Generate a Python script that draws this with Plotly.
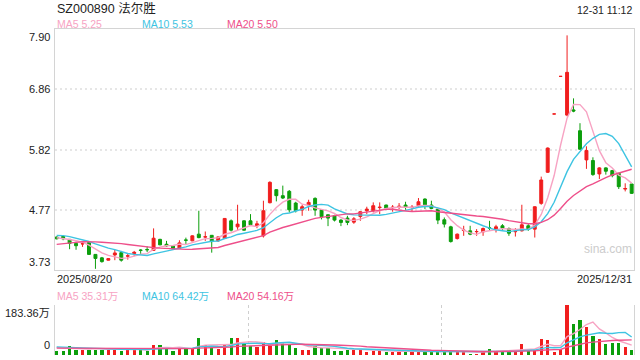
import plotly.graph_objects as go
import pandas as pd
import numpy as np

# ---------------- text ----------------
title_text = "SZ000890 法尔胜"
time_text = "12-31 11:12"
start_label = "2025/08/20"
end_label = "2025/12/31"
watermark = "sina.com"
price_tick_labels = ["7.90", "6.86", "5.82", "4.77", "3.73"]
vol_tick_labels = ["183.36万", "0"]
price_ma_labels = ["MA5 5.25", "MA10 5.53", "MA20 5.50"]
vol_ma_labels = ["MA5 35.31万", "MA10 64.42万", "MA20 54.16万"]

# ---------------- data ----------------
open_ = [4.30, 4.31, 4.26, 4.19, 4.18, 4.205, 4.00, 3.94, 3.90, 3.99,
         4.03, 3.97, 4.014, 4.075, 4.085, 4.07, 4.26, 4.176, 4.147, 4.106,
         4.25, 4.234, 4.35, 4.30, 4.33, 4.234, 4.274, 4.581, 4.477, 4.581,
         4.581, 4.495, 4.321, 4.894, 5.12, 5.016, 5.091, 4.888, 4.767, 4.854,
         4.969, 4.772, 4.686, 4.668, 4.593, 4.628, 4.558, 4.657, 4.755, 4.755,
         4.81, 4.854, 4.81, 4.824, 4.854, 4.81, 4.842, 4.958, 4.854, 4.784,
         4.599, 4.477, 4.274, 4.413, 4.408, 4.392, 4.39, 4.459, 4.437, 4.495,
         4.448, 4.392, 4.408, 4.495, 4.437, 4.883, 5.421, 6.43, 7.08, 6.41,
         6.50, 6.14, 5.635, 5.624, 5.392, 5.497, 5.45, 5.404, 5.13, 5.218]
high = [4.31, 4.33, 4.265, 4.22, 4.22, 4.21, 4.005, 3.956, 3.93, 4.08,
        4.06, 4.02, 4.06, 4.09, 4.14, 4.45, 4.27, 4.234, 4.15, 4.245,
        4.29, 4.33, 4.755, 4.396, 4.33, 4.31, 4.63, 4.605, 4.859, 4.59,
        4.697, 4.581, 4.929, 5.265, 5.131, 5.19, 5.114, 4.911, 4.859, 4.946,
        4.987, 4.78, 4.69, 4.686, 4.61, 4.668, 4.645, 4.744, 4.825, 4.90,
        4.90, 4.86, 4.854, 4.888, 4.911, 4.854, 4.975, 4.969, 4.929, 4.79,
        4.639, 4.495, 4.361, 4.495, 4.495, 4.437, 4.466, 4.581, 4.512, 4.524,
        4.466, 4.454, 4.859, 4.524, 4.83, 5.346, 5.85, 6.43, 7.08, 7.79,
        6.70, 6.27, 5.87, 5.68, 5.508, 5.508, 5.462, 5.404, 5.23, 5.218]
low = [4.26, 4.245, 4.09, 4.08, 4.13, 3.995, 3.75, 3.857, 3.895, 3.90,
       3.875, 3.91, 3.97, 3.99, 4.04, 4.06, 4.16, 4.13, 4.09, 4.10,
       4.176, 4.23, 4.28, 4.234, 4.03, 4.22, 4.27, 4.396, 4.408, 4.41,
       4.495, 4.454, 4.292, 4.883, 4.917, 4.958, 4.726, 4.726, 4.668, 4.755,
       4.668, 4.605, 4.489, 4.570, 4.489, 4.506, 4.529, 4.581, 4.697, 4.726,
       4.697, 4.79, 4.738, 4.784, 4.772, 4.738, 4.813, 4.784, 4.784, 4.524,
       4.466, 4.205, 4.257, 4.321, 4.332, 4.321, 4.321, 4.408, 4.379, 4.408,
       4.321, 4.309, 4.396, 4.408, 4.292, 4.859, 5.41, 6.43, 7.08, 6.39,
       6.46, 5.81, 5.48, 5.36, 5.305, 5.38, 5.334, 5.131, 5.09, 5.045]
close = [4.27, 4.27, 4.19, 4.15, 4.185, 4.00, 3.93, 3.875, 3.927, 4.025,
         3.90, 3.975, 4.037, 4.07, 4.08, 4.28, 4.165, 4.147, 4.095, 4.199,
         4.245, 4.321, 4.29, 4.305, 4.222, 4.303, 4.622, 4.419, 4.524, 4.419,
         4.512, 4.529, 4.755, 5.247, 5.016, 4.975, 4.772, 4.755, 4.825, 4.90,
         4.767, 4.651, 4.628, 4.593, 4.553, 4.553, 4.616, 4.738, 4.784, 4.842,
         4.816, 4.796, 4.816, 4.832, 4.813, 4.816, 4.911, 4.859, 4.796, 4.593,
         4.524, 4.222, 4.35, 4.419, 4.35, 4.396, 4.448, 4.454, 4.477, 4.454,
         4.367, 4.396, 4.512, 4.437, 4.825, 5.288, 5.84, 6.43, 7.08, 7.15,
         6.48, 5.82, 5.798, 5.381, 5.497, 5.439, 5.363, 5.172, 5.14, 5.056]
volume = [14.7, 14.7, 33.0, 20.8, 20.8, 20.8, 20.8, 20.8, 20.8, 22.0,
          14.7, 20.8, 20.8, 20.8, 14.7, 39.1, 39.1, 24.4, 14.7, 24.4,
          24.4, 28.1, 64.8, 36.7, 28.1, 23.2, 36.7, 64.8, 64.8, 42.8,
          34.2, 30.6, 50.1, 33.0, 57.5, 47.7, 36.7, 28.1, 20.8, 20.8,
          34.2, 26.9, 26.9, 14.7, 14.7, 20.8, 20.8, 20.8, 12.2, 14.7,
          14.7, 12.2, 12.2, 12.2, 14.7, 12.2, 12.2, 12.2, 12.2, 14.7,
          14.7, 12.2, 12.2, 12.2, 6.1, 6.1, 12.2, 24.4, 14.7, 12.2,
          12.2, 14.7, 40.3, 24.4, 18.3, 58.7, 55.0, 12.2, 24.4, 183.36,
          113.7, 128.4, 103.9, 69.7, 58.7, 40.3, 45.2, 45.2, 29.3, 18.3]
# closes / volumes of the sessions before the first drawn day (needed by the moving averages)
prior_close = [3.95, 3.97, 3.98, 4.00, 3.96, 3.99, 4.02, 4.05, 4.10, 4.18,
               4.28, 4.36, 4.42, 4.40, 4.36, 4.33, 4.28, 4.26, 4.30]
prior_volume = [18, 22, 20, 19, 24, 21, 23, 18, 20, 22,
                32, 35, 28, 30, 33, 30, 34, 28, 31]

# ---------------- styles ----------------
RED = "#f01e1e"
GREEN = "#0c9e0c"
MA_COLORS = ["#f7a3c3", "#3ec4e2", "#ee4f8a"]
MA_WINDOWS = [5, 10, 20]
FONT = "Liberation Sans, Arial, Noto Sans CJK SC, sans-serif"
W, H = 640, 360

n = len(close)
idx = list(range(n))

prev = [prior_close[-1]] + close[:-1]
is_up = [c > o or (c == o and c >= p) for o, c, p in zip(open_, close, prev)]

closes_all = pd.Series(prior_close + close)
vols_all = pd.Series(prior_volume + volume)
k = len(prior_close)

fig = go.Figure()

for up, color in [(True, RED), (False, GREEN)]:
    sel = [i for i in idx if is_up[i] == up]
    fig.add_trace(go.Candlestick(
        x=sel,
        open=[open_[i] for i in sel], high=[high[i] for i in sel],
        low=[low[i] for i in sel], close=[close[i] for i in sel],
        increasing=dict(line=dict(color=color, width=1), fillcolor=color),
        decreasing=dict(line=dict(color=color, width=1), fillcolor=color),
        whiskerwidth=0, xaxis="x", yaxis="y", hoverinfo="skip",
    ))

for w, col in zip(MA_WINDOWS, MA_COLORS):
    ma = closes_all.rolling(w).mean().iloc[k:].tolist()
    fig.add_trace(go.Scatter(x=idx, y=ma, mode="lines",
                             line=dict(color=col, width=1.4),
                             xaxis="x", yaxis="y", hoverinfo="skip"))

fig.add_trace(go.Bar(x=idx, y=volume, width=0.5,
                     marker=dict(color=[RED if u else GREEN for u in is_up], line=dict(width=0)),
                     xaxis="x2", yaxis="y2", hoverinfo="skip"))

for w, col in zip(MA_WINDOWS, MA_COLORS):
    ma = vols_all.rolling(w).mean().iloc[k:].tolist()
    fig.add_trace(go.Scatter(x=idx, y=ma, mode="lines",
                             line=dict(color=col, width=1.4),
                             xaxis="x2", yaxis="y2", hoverinfo="skip"))

# ---------------- layout geometry (pixels) ----------------
PL, PR = 55, 634
P_TOP, P_BOT = 29, 270
V_TOP, V_BOT = 304.5, 355
def px(x): return x / W
def py(y): return 1 - y / H

x_range = [-0.26, n - 1 + 0.36]
p_lo, p_hi = 3.73, 7.90
v_hi = 183.36
grid_vals = list(np.linspace(p_hi, p_lo, len(price_tick_labels)))
third = (x_range[1] - x_range[0]) / 3

BORDER = "#d4d4d4"
fig.update_layout(
    width=W, height=H, margin=dict(l=0, r=0, t=0, b=0),
    paper_bgcolor="white", plot_bgcolor="white", showlegend=False,
    font=dict(family=FONT, size=11, color="#222"),
    xaxis=dict(domain=[px(PL), px(PR)], range=x_range, showticklabels=False,
               showgrid=False, zeroline=False, showline=True, mirror=True,
               linecolor=BORDER, linewidth=1, ticks="", rangeslider=dict(visible=False),
               anchor="y"),
    yaxis=dict(domain=[py(P_BOT), py(P_TOP)], range=[p_lo, p_hi], tickvals=grid_vals[1:-1],
               showticklabels=False, showgrid=True, gridcolor="#e6e6e6", gridwidth=2,
               griddash="2px,3px", zeroline=False, showline=True, mirror=True,
               linecolor=BORDER, linewidth=1, ticks="", anchor="x"),
    xaxis2=dict(domain=[px(PL), px(PR)], range=x_range, showticklabels=False,
                tickvals=[x_range[0] + third, x_range[0] + 2 * third],
                showgrid=True, gridcolor="#cfcfcf", gridwidth=1, griddash="dot",
                zeroline=False, showline=False, ticks="", anchor="y2"),
    yaxis2=dict(domain=[py(V_BOT), py(V_TOP)], range=[0, v_hi], tickvals=[0, v_hi],
                showticklabels=False, showgrid=True, gridcolor="#cfcfcf", gridwidth=1,
                griddash="dot", zeroline=False, showline=True, mirror=True,
                linecolor=BORDER, linewidth=1, ticks="", anchor="x2"),
    bargap=0,
    boxgap=0.35,
)

ann = []
def text(x, y, s, size=11, color="#222", xanchor="left", yanchor="middle", xref="paper", yref="paper", **kw):
    ann.append(dict(x=x, y=y, text=s, showarrow=False, xref=xref, yref=yref,
                    xanchor=xanchor, yanchor=yanchor,
                    font=dict(size=size, color=color, family=FONT), **kw))

text(px(55), py(8), title_text, size=12.5, color="#222")
text(px(634), py(9.5), time_text, size=10.5, color="#222", xanchor="right")
for j, (lab, col) in enumerate(zip(price_ma_labels, MA_COLORS)):
    text(px(55 + 85 * j), py(24), lab, size=10.5, color=col)
for j, (lab, col) in enumerate(zip(vol_ma_labels, MA_COLORS)):
    text(px(55 + 85 * j), py(296), lab, size=10.5, color=col)

for j, (lab, val) in enumerate(zip(price_tick_labels, grid_vals)):
    ya = "top" if j == 0 else ("bottom" if j == len(grid_vals) - 1 else "middle")
    text(px(PL), val, lab, xanchor="right", yanchor=ya, yref="y", xshift=-3)
text(px(PL), v_hi, vol_tick_labels[0], xanchor="right", yanchor="top", yref="y2", xshift=-3)
text(px(PL), 0, vol_tick_labels[1], xanchor="right", yanchor="bottom", yref="y2", xshift=-3, yshift=2)

text(px(PL), py(279), start_label)
text(px(PR), py(279), end_label, xanchor="right")
text(px(582), py(249), watermark, size=12, color="#cccccc")

fig.update_layout(annotations=ann)
fig.write_html("out.html")
